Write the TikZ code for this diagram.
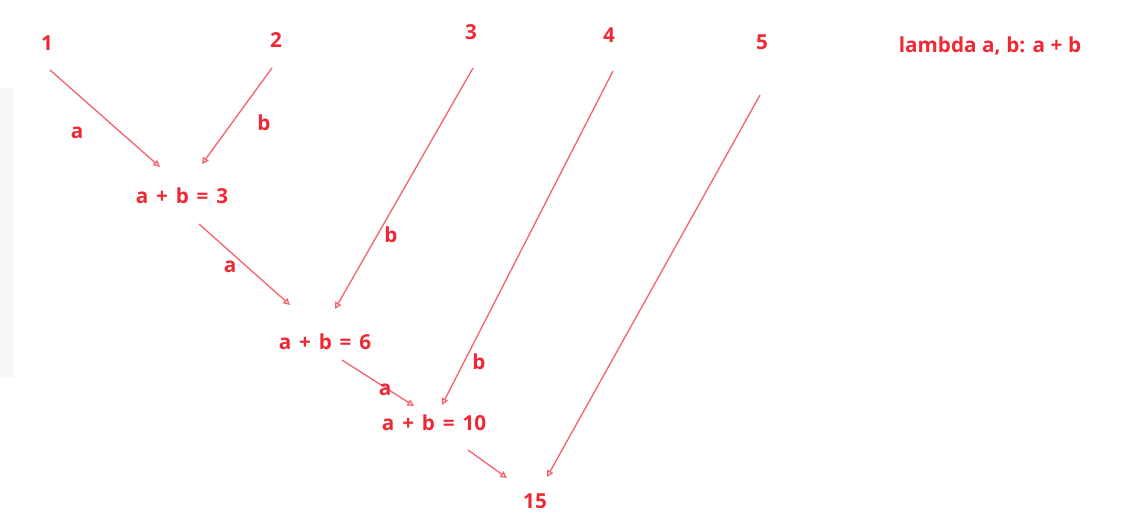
\documentclass[tikz,border=0pt]{standalone}
\usepackage{fontspec}
\setmainfont{Open Sans}
\usetikzlibrary{arrows.meta,calc}

\definecolor{txtred}{RGB}{240,40,52}
\definecolor{linered}{RGB}{245,100,112}

\newcommand{\lblfont}{\fontsize{15.5}{18}\selectfont\bfseries\spaceskip=0.38em\relax}
\newcommand{\lamfont}{\fontsize{15.5}{18}\selectfont\bfseries\spaceskip=0.27em\relax}

\tikzset{
  lbl/.style={text=txtred, font=\lblfont, inner sep=1pt},
  link/.style={draw=linered, line width=1pt, -{Triangle[open, length=5pt, width=5pt]}},
}

\begin{document}
\begin{tikzpicture}[x=0.75pt, y=-0.75pt]
				\useasboundingbox (0,0) rectangle (1147,528);
				\fill[black!3] (0,88) rectangle (14,378); % faint strip at left
				
				% Inputs
				\node[lbl] (one) at (47, 43) {1};
				\node[lbl] (two) at (276, 40) {2};
				\node[lbl] (three) at (471, 32) {3};
				\node[lbl] (four) at (609, 35) {4};
				\node[lbl] (five) at (762, 42) {5};
				
				\node[lbl, font=\lamfont] (lam) at (990, 46) {lambda a, b: a + b};
				
				% Partial sums
				\node[lbl] (s3) at (182, 196) {a + b = 3};
				\node[lbl] (s6) at (325, 342) {a + b = 6};
				\node[lbl] (s10) at (434, 423) {a + b = 10};
				\node[lbl] (res) at (535, 501) {15};
				
				% Arrows
				\draw[link] ($(one)+(3,27)$) -- ($(s3)+(-22,-29)$);
				\draw[link] ($(two)+(-4,28)$) -- ($(s3)+(20,-32)$);
				\draw[link] ($(s3)+(17,28)$) -- ($(s6)+(-35,-37)$);
				\draw[link] ($(three)+(2,36)$) -- ($(s6)+(10,-33)$);
				\draw[link] ($(s6)+(17,18)$) -- ($(s10)+(-20,-17)$);
				\draw[link] ($(four)+(4,36)$) -- ($(s10)+(8,-18)$);
				\draw[link] ($(s10)+(34,27)$) -- ($(res)+(-28,-23)$);
				\draw[link] ($(five)+(-2,53)$) -- ($(res)+(12,-24)$);
				
				% Argument labels
				\node[lbl] (a1) at (77, 133) {a};
				\node[lbl] (b1) at (264, 123) {b};
				\node[lbl] (a2) at (230, 267) {a};
				\node[lbl] (b2) at (391, 235) {b};
				\node[lbl] (a3) at (385, 390) {a};
				\node[lbl] (b3) at (479, 362) {b};
			\end{tikzpicture}
\end{document}
